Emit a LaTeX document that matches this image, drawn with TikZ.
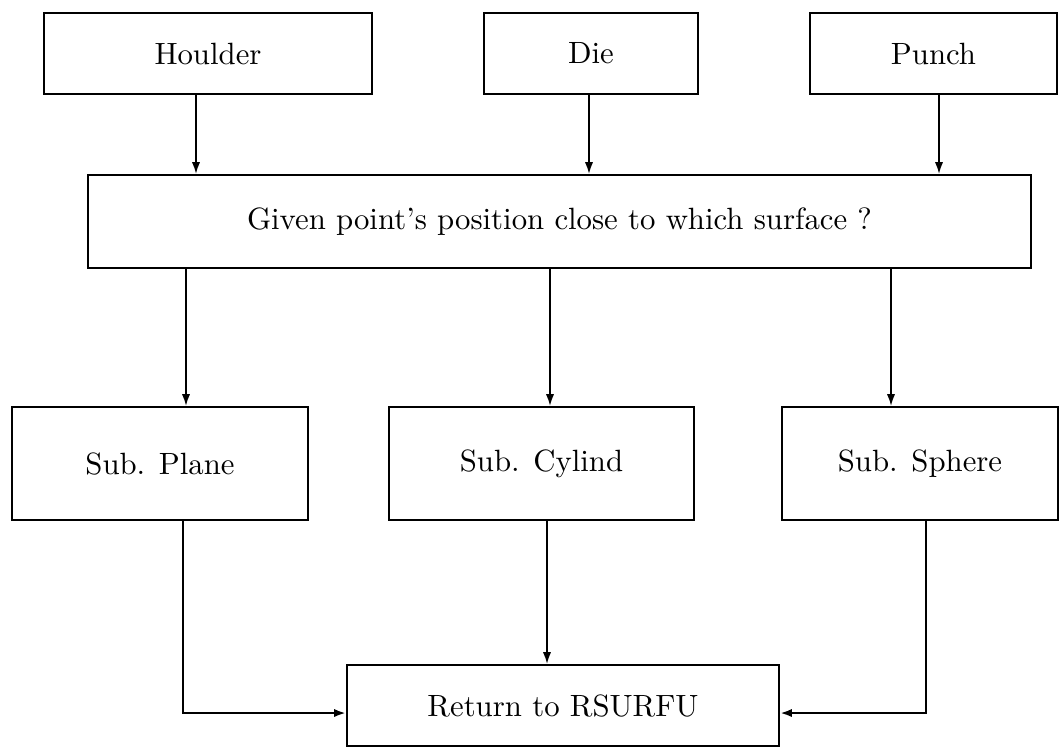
\documentclass[tikz,border=0pt]{standalone}
\usetikzlibrary{arrows.meta}
\tikzset{
  bx/.style 2 args={draw, line width=0.75pt, minimum width=#1*0.3412pt, minimum height=#2*0.3412pt, inner sep=0pt, font=\fontsize{10.5}{12.6}\selectfont},
  arr/.style={line width=0.55pt, -{Latex[length=4pt,width=2.8pt]}},
  arrb/.style={line width=0.85pt, -{Latex[length=4pt,width=2.8pt]}}
}
\begin{document}
\begin{tikzpicture}[x=0.3412pt, y=-0.3412pt]
\useasboundingbox (0,0) rectangle (1062,748);
% boxes
\node[bx={328}{81}] (hou) at (208,53.5) {Houlder};
\node[bx={214}{81}] (die) at (591,53.5) {Die};
\node[bx={247}{81}] (pun) at (933.5,53.5) {Punch};
\node[bx={943}{93}] (giv) at (559.5,221.5) {Given point's position close to which surface ?};
\node[bx={296}{113}] (pla) at (160,463.5) {Sub. Plane};
\node[bx={305}{113}] (cyl) at (541.5,463.5) {Sub. Cylind};
\node[bx={276}{113}] (sph) at (920,463.5) {Sub. Sphere};
\node[bx={432}{81}] (ret) at (563,705.5) {Return to RSURFU};
% x positions of connectors
\coordinate (a1) at (196,0);
\coordinate (a2) at (589,0);
\coordinate (a3) at (939,0);
\coordinate (b1) at (186,0);
\coordinate (b2) at (550,0);
\coordinate (b3) at (891,0);
\coordinate (c1) at (183,0);
\coordinate (c2) at (547,0);
\coordinate (c3) at (926,0);
\coordinate (cy) at (0,713);
% connectors
\draw[arr] (hou.south -| a1) -- (giv.north -| a1);
\draw[arr] (die.south -| a2) -- (giv.north -| a2);
\draw[arr] (pun.south -| a3) -- (giv.north -| a3);
\draw[arr] (giv.south -| b1) -- (pla.north -| b1);
\draw[arr] (giv.south -| b2) -- (cyl.north -| b2);
\draw[arr] (giv.south -| b3) -- (sph.north -| b3);
\draw[arrb] (pla.south -| c1) |- (ret.west |- cy);
\draw[arr] (cyl.south -| c2) -- (ret.north -| c2);
\draw[arrb] (sph.south -| c3) |- (ret.east |- cy);
\end{tikzpicture}
\end{document}
